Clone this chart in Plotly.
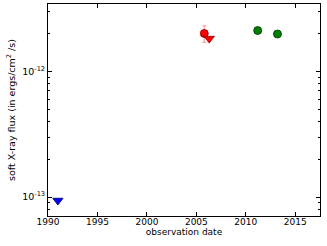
import plotly.graph_objects as go

# data
red_circle_x = [2005.8]
red_circle_y = [2.0e-12]
red_circle_err = [0.3e-12]
red_tri_x = [2006.3]
red_tri_y = [1.82e-12]
green_x = [2011.2, 2013.2]
green_y = [2.11e-12, 1.98e-12]
blue_tri_x = [1991.0]
blue_tri_y = [9.4e-14]

x_ticks = [1990, 1995, 2000, 2005, 2010, 2015]
y_ticks = [1e-13, 1e-12]
y_tick_text = ["10<sup>-13</sup>", "10<sup>-12</sup>"]
y_minor = [m * 1e-14 for m in range(7, 10)] + [m * 1e-13 for m in range(2, 10)] + [m * 1e-12 for m in range(2, 4)]

fig = go.Figure()
fig.add_trace(go.Scatter(
    x=red_circle_x, y=red_circle_y, mode="markers",
    marker=dict(symbol="circle", size=8, color="red", line=dict(color="#800000", width=0.8)),
    error_y=dict(type="data", array=red_circle_err, color="rgba(255,100,100,0.7)", width=2, thickness=1),
    showlegend=False))
fig.add_trace(go.Scatter(
    x=red_tri_x, y=red_tri_y, mode="markers",
    marker=dict(symbol="triangle-down", size=9, color="red", line=dict(color="#800000", width=0.8)),
    showlegend=False))
fig.add_trace(go.Scatter(
    x=green_x, y=green_y, mode="markers",
    marker=dict(symbol="circle", size=8, color="green", line=dict(color="#003000", width=0.8)),
    showlegend=False))
fig.add_trace(go.Scatter(
    x=blue_tri_x, y=blue_tri_y, mode="markers",
    marker=dict(symbol="triangle-down", size=9, color="blue", line=dict(color="#000060", width=0.8)),
    showlegend=False))

font = dict(family="DejaVu Sans", size=9, color="black")
fig.update_layout(
    width=327, height=246,
    margin=dict(l=48, r=7, t=4, b=30),
    paper_bgcolor="white", plot_bgcolor="white",
    font=font,
    xaxis=dict(
        range=[1990, 2017.5], tickvals=x_ticks, ticks="inside", ticklen=4,
        tickcolor="black", showline=True, linecolor="black", linewidth=1, mirror="ticks",
        showgrid=False, zeroline=False, automargin=False,
        tickfont=dict(family="DejaVu Sans", size=9),
        ticklabelstandoff=-3,
        title=dict(text="observation date", font=dict(family="DejaVu Sans", size=9), standoff=1),
    ),
    yaxis=dict(
        type="log", range=[-13.15, -11.465], tickvals=y_ticks, ticktext=y_tick_text,
        ticks="inside", ticklen=4, tickcolor="black",
        showline=True, linecolor="black", linewidth=1, mirror="ticks",
        showgrid=False, zeroline=False, automargin=False,
        tickfont=dict(family="DejaVu Sans", size=9.5),
        minor=dict(tickvals=y_minor, ticks="inside", ticklen=2, tickcolor="black", showgrid=False),
        title=dict(text="soft X-ray flux (in ergs/cm<sup>2</sup> /s)", font=dict(family="DejaVu Sans", size=9.5), standoff=4),
    ),
)
fig.write_html("out.html", config={"displayModeBar": False},
               post_script="document.body.style.margin='0';document.body.style.overflow='hidden';")
